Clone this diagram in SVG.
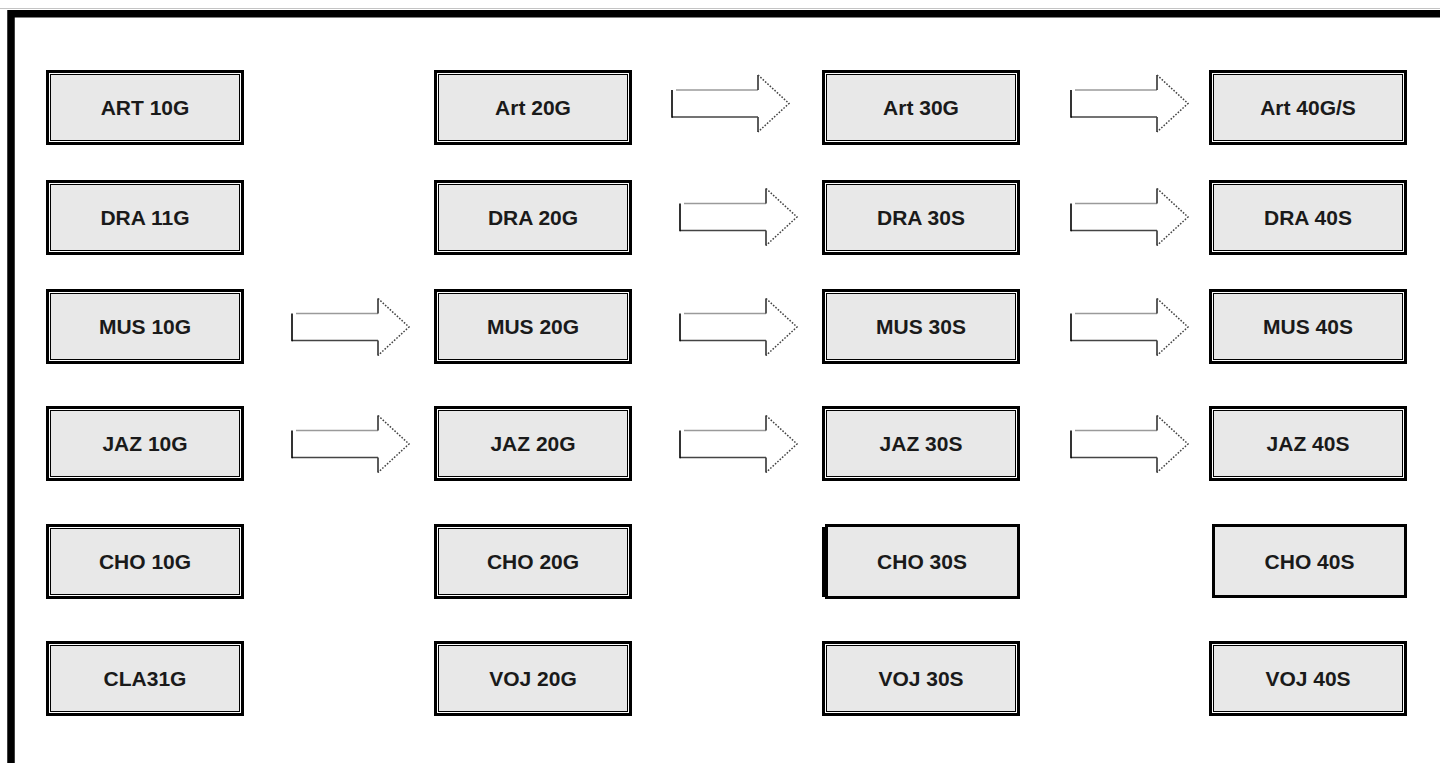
<svg xmlns="http://www.w3.org/2000/svg" xmlns:xlink="http://www.w3.org/1999/xlink" width="1440" height="763" viewBox="0 0 1440 763">
  <style>
    .lbl { font-family: "Liberation Sans", Arial, sans-serif; font-weight: bold; font-size: 21px; fill: #1a1a1a; text-anchor: middle; }
    .frame { fill: none; stroke: #000; stroke-width: 7.5; }
    .hair { stroke: #c4c4c4; stroke-width: 1; }
    .ob { fill: #fff; stroke: #000; stroke-width: 3; }
    .ib { fill: #e8e8e8; stroke: #000; stroke-width: 1; }
    .sb { fill: #e8e8e8; stroke: #000; stroke-width: 3; }
    .a-body { fill: #fff; stroke: none; }
    .a-left { stroke: #000; stroke-width: 1.6; }
    .a-top { stroke: #9a9a9a; stroke-width: 1.6; }
    .a-bot { stroke: #444; stroke-width: 1.6; }
    .a-step { stroke: #333; stroke-width: 1.6; }
    .a-head { stroke: #444; stroke-width: 1.5; stroke-dasharray: 1.6 1.6; fill: none; }
  </style>
  <defs>
    <!-- thick/thin double-bordered course box, 198 x 75 -->
    <g id="dbl">
      <rect class="ob" x="1.5" y="1.5" width="195" height="72"/>
      <rect class="ib" x="4.5" y="4.5" width="189" height="66"/>
    </g>
    <!-- hollow block arrow, origin at left end of shaft, vertically centred -->
    <g id="arw">
      <polygon class="a-body" points="0,-13.5 86,-13.5 86,-28.5 117,0 86,28.5 86,13.5 0,13.5"/>
      <line class="a-top" x1="4" y1="-13.5" x2="86" y2="-13.5"/>
      <line class="a-step" x1="86" y1="-13.5" x2="86" y2="-28.5"/>
      <polyline class="a-head" points="86,-28.5 117,0 86,28.5"/>
      <line class="a-step" x1="86" y1="28.5" x2="86" y2="13.5"/>
      <line class="a-bot" x1="86" y1="13.5" x2="0" y2="13.5"/>
      <line class="a-left" x1="0" y1="-13.5" x2="0" y2="14.3"/>
    </g>
  </defs>

  <rect width="1440" height="763" fill="#fff"/>
  <!-- outer frame, open to the right and bottom -->
  <line class="hair" x1="0" y1="8.5" x2="1440" y2="8.5"/>
  <path class="frame" d="M11 763 V13.75 H1440"/>

  <!-- column 1 -->
  <g id="art10g" transform="translate(46,70)"><use href="#dbl"/><text class="lbl" x="99" y="45">ART 10G</text></g>
  <g id="dra11g" transform="translate(46,180)"><use href="#dbl"/><text class="lbl" x="99" y="45">DRA 11G</text></g>
  <g id="mus10g" transform="translate(46,289)"><use href="#dbl"/><text class="lbl" x="99" y="45">MUS 10G</text></g>
  <g id="jaz10g" transform="translate(46,406)"><use href="#dbl"/><text class="lbl" x="99" y="45">JAZ 10G</text></g>
  <g id="cho10g" transform="translate(46,524)"><use href="#dbl"/><text class="lbl" x="99" y="45">CHO 10G</text></g>
  <g id="cla31g" transform="translate(46,641)"><use href="#dbl"/><text class="lbl" x="99" y="45">CLA31G</text></g>

  <!-- column 2 -->
  <g id="art20g" transform="translate(434,70)"><use href="#dbl"/><text class="lbl" x="99" y="45">Art 20G</text></g>
  <g id="dra20g" transform="translate(434,180)"><use href="#dbl"/><text class="lbl" x="99" y="45">DRA 20G</text></g>
  <g id="mus20g" transform="translate(434,289)"><use href="#dbl"/><text class="lbl" x="99" y="45">MUS 20G</text></g>
  <g id="jaz20g" transform="translate(434,406)"><use href="#dbl"/><text class="lbl" x="99" y="45">JAZ 20G</text></g>
  <g id="cho20g" transform="translate(434,524)"><use href="#dbl"/><text class="lbl" x="99" y="45">CHO 20G</text></g>
  <g id="voj20g" transform="translate(434,641)"><use href="#dbl"/><text class="lbl" x="99" y="45">VOJ 20G</text></g>

  <!-- column 3 -->
  <g id="art30g" transform="translate(822,70)"><use href="#dbl"/><text class="lbl" x="99" y="45">Art 30G</text></g>
  <g id="dra30s" transform="translate(822,180)"><use href="#dbl"/><text class="lbl" x="99" y="45">DRA 30S</text></g>
  <g id="mus30s" transform="translate(822,289)"><use href="#dbl"/><text class="lbl" x="99" y="45">MUS 30S</text></g>
  <g id="jaz30s" transform="translate(822,406)"><use href="#dbl"/><text class="lbl" x="99" y="45">JAZ 30S</text></g>
  <g id="cho30s" transform="translate(822,524)">
    <rect class="sb" x="4.5" y="1.5" width="192" height="72"/>
    <line x1="1.5" y1="3" x2="1.5" y2="73" stroke="#000" stroke-width="3"/>
    <text class="lbl" x="100" y="45">CHO 30S</text>
  </g>
  <g id="voj30s" transform="translate(822,641)"><use href="#dbl"/><text class="lbl" x="99" y="45">VOJ 30S</text></g>

  <!-- column 4 -->
  <g id="art40gs" transform="translate(1209,70)"><use href="#dbl"/><text class="lbl" x="99" y="45">Art 40G/S</text></g>
  <g id="dra40s" transform="translate(1209,180)"><use href="#dbl"/><text class="lbl" x="99" y="45">DRA 40S</text></g>
  <g id="mus40s" transform="translate(1209,289)"><use href="#dbl"/><text class="lbl" x="99" y="45">MUS 40S</text></g>
  <g id="jaz40s" transform="translate(1209,406)"><use href="#dbl"/><text class="lbl" x="99" y="45">JAZ 40S</text></g>
  <g id="cho40s" transform="translate(1212,524)">
    <rect class="sb" x="1.5" y="1.5" width="192" height="71"/>
    <text class="lbl" x="97.5" y="45">CHO 40S</text>
  </g>
  <g id="voj40s" transform="translate(1209,641)"><use href="#dbl"/><text class="lbl" x="99" y="45">VOJ 40S</text></g>

  <!-- progression arrows -->
  <g id="connectors">
    <use href="#arw" x="672" y="103.5"/>
    <use href="#arw" x="1071" y="103.5"/>
    <use href="#arw" x="680" y="217"/>
    <use href="#arw" x="1071" y="217"/>
    <use href="#arw" x="292" y="327"/>
    <use href="#arw" x="680" y="327"/>
    <use href="#arw" x="1071" y="327"/>
    <use href="#arw" x="292" y="444"/>
    <use href="#arw" x="680" y="444"/>
    <use href="#arw" x="1071" y="444"/>
  </g>
</svg>
